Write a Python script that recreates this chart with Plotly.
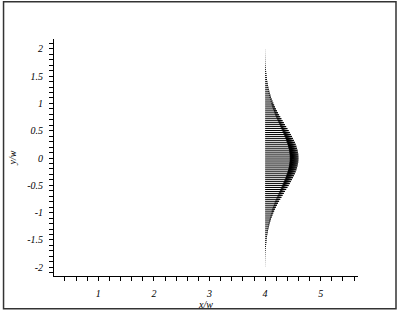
import numpy as np
import plotly.graph_objects as go

# Vector base position (x/w) and profile
x_base = 4.0
# y/w positions of the vectors (grid of 111 stations, step ~0.036)
y_pos = np.round(np.linspace(-1.98, 1.98, 111), 4).tolist()
# vector lengths, from y=0 outward
half_len = [0.600, 0.599, 0.596, 0.590, 0.583, 0.574, 0.562, 0.549, 0.535, 0.518,
            0.501, 0.483, 0.463, 0.443, 0.422, 0.400, 0.378, 0.357, 0.335, 0.313,
            0.292, 0.271, 0.251, 0.232, 0.213, 0.195, 0.178, 0.162, 0.146, 0.132,
            0.119, 0.106, 0.095, 0.084, 0.075, 0.066, 0.058, 0.051, 0.045, 0.039,
            0.034, 0.029, 0.025, 0.022, 0.018, 0.016, 0.013, 0.011, 0.009, 0.008,
            0.007, 0.006, 0.005, 0.004, 0.003, 0.003]
lengths = half_len[::-1] + half_len[1:]

x_ticks = [1, 2, 3, 4, 5]
y_ticks = [-2, -1.5, -1, -0.5, 0, 0.5, 1, 1.5, 2]
y_tick_text = ["-2", "-1.5", "-1", "-0.5", "0", "0.5", "1", "1.5", "2"]

HEAD_FRAC = 0.25
HEAD_HALF = 0.045

# shafts
sx, sy = [], []
for y, L in zip(y_pos, lengths):
    sx += [x_base, x_base + L, None]
    sy += [y, y, None]
# heads
hx, hy = [], []
for y, L in zip(y_pos, lengths):
    tip = x_base + L
    hl = HEAD_FRAC * L
    hh = HEAD_HALF * L
    hx += [tip - hl, tip, tip - hl, tip - hl, None]
    hy += [y - hh, y, y + hh, y - hh, None]

fig = go.Figure()
fig.add_trace(go.Scatter(x=sx, y=sy, mode="lines",
                         line=dict(color="black", width=1), hoverinfo="skip"))
fig.add_trace(go.Scatter(x=hx, y=hy, mode="lines", fill="toself",
                         fillcolor="black", line=dict(color="black", width=0.5),
                         hoverinfo="skip"))

font = dict(family="Liberation Serif", size=10, color="black", style="italic")
fig.update_layout(
    width=398, height=318,
    margin=dict(l=52, r=40, t=39, b=36),
    paper_bgcolor="white", plot_bgcolor="white",
    showlegend=False,
    xaxis=dict(range=[0.204, 5.67], tickvals=x_ticks, ticktext=[str(v) for v in x_ticks],
               showgrid=False, zeroline=False, showline=True, linecolor="black", linewidth=1,
               ticks="outside", ticklen=4, tickcolor="black", tickfont=font,
               ticklabelstandoff=4,
               minor=dict(dtick=0.2, tick0=0, ticks="outside", ticklen=4, tickcolor="black"),
               title=dict(text="x/w", font=font, standoff=0)),
    yaxis=dict(range=[-2.16, 2.18], tickvals=y_ticks, ticktext=y_tick_text,
               showgrid=False, zeroline=False, showline=True, linecolor="black", linewidth=1,
               ticks="outside", ticklen=4, tickcolor="black", tickfont=font,
               ticklabelstandoff=4,
               minor=dict(dtick=0.1, tick0=0, ticks="outside", ticklen=4, tickcolor="black"),
               title=dict(text="y/w", font=font, standoff=8)),
    shapes=[dict(type="rect", xref="paper", yref="paper",
                 x0=-0.166, x1=1.125, y0=-0.138, y1=1.157,
                 line=dict(color="#333333", width=1.5))],
)
fig.write_html("out.html")
